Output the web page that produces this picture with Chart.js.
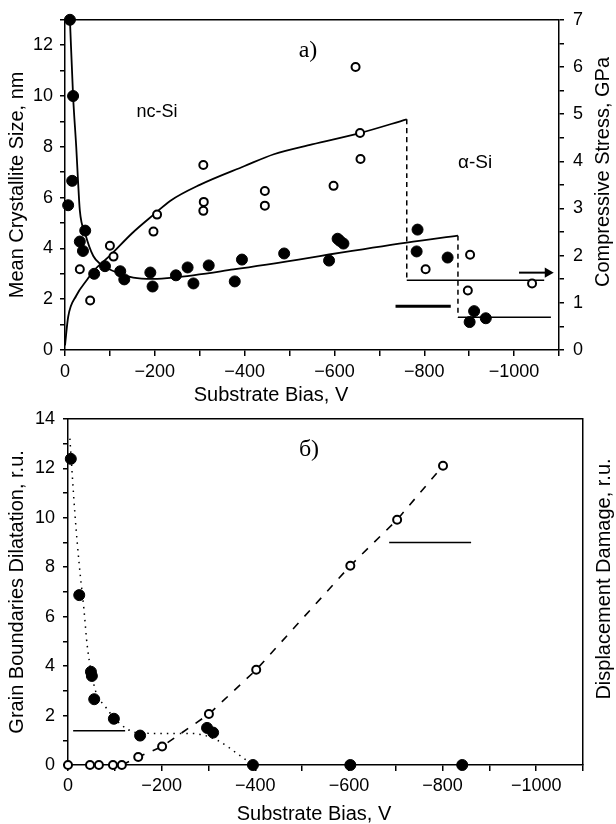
<!DOCTYPE html>
<html><head><meta charset="utf-8">
<script src="https://cdn.jsdelivr.net/npm/chart.js@4.4.1/dist/chart.umd.min.js"></script>
<style>
html,body{margin:0;padding:0;background:#fff;width:616px;height:824px;overflow:hidden;}
#c1{position:absolute;left:0;top:0;width:616px;height:412px;}
#c2{position:absolute;left:0;top:400px;width:616px;height:424px;}
</style></head><body>
<canvas id="c1" width="616" height="412"></canvas>
<canvas id="c2" width="616" height="424"></canvas>
<script>
// ---------- DATA: panel a) ----------
const sizeBias = [-11,-18,-16,-7,-45,-33,-40,-65,-89,-123,-132,-190,-195,-247,-273,-286,-320,-378,-394,-488,-588,-607,-612,-620,-785,-783,-852,-911,-901,-937];
const sizeNm   = [13.0,10.0,6.66,5.7,4.7,4.27,3.9,3.0,3.3,3.1,2.78,3.05,2.5,2.94,3.25,2.62,3.33,2.7,3.56,3.8,3.52,4.38,4.3,4.19,4.74,3.88,3.64,1.53,1.1,1.25];
const stressBias = [-33,-56,-100,-108,-197,-205,-309,-308,-308,-445,-445,-598,-647,-657,-658,-803,-902,-897,-1040];
const stressGPa  = [1.71,1.05,2.21,1.98,2.51,2.87,3.14,2.95,3.92,3.37,3.06,3.48,6.0,4.6,4.05,1.71,2.02,1.26,1.41];
const sizeFitBias = [-11,-18,-25,-29,-33,-45,-63,-78,-123,-152,-196,-241,-375,-547,-588,-761,-875];
const sizeFitNm   = [13.0,10.0,8.0,6.66,5.5,4.58,3.7,3.4,3.0,2.85,2.8,2.85,3.17,3.64,3.76,4.23,4.5];
const sizeDropBias = [-875,-875];
const sizeDropNm   = [4.5,1.29];
const sizeAlphaBias = [-875,-1082];
const sizeAlphaNm   = [1.29,1.29];
const stressFitBias = [0,-7,-25,-50,-65,-100,-150,-200,-234,-300,-400,-465,-550,-657,-761];
const stressFitGPa  = [0.1,0.7,1.15,1.5,1.69,2.0,2.48,2.89,3.16,3.5,3.9,4.15,4.36,4.6,4.89];
const stressDropBias = [-761,-761];
const stressDropGPa  = [4.89,1.48];
const stressAlphaBias = [-761,-1067];
const stressAlphaGPa  = [1.48,1.48];
const sizeMarkBias = [-736,-859];
const sizeMarkNm   = [1.72,1.72];
const stressArrowBias = [-1011,-1075];
const stressArrowGPa  = [1.64,1.64];

// ---------- DATA: panel б) ----------
const dilBias = [-6,-24,-49,-51,-56,-98,-154,-297,-310,-395,-603,-842];
const dilVal  = [12.38,6.87,3.77,3.6,2.66,1.87,1.19,1.5,1.31,0,0,0];
const dmgBias = [0,-47,-66,-96,-115,-150,-201,-301,-402,-603,-703,-801];
const dmgVal  = [0,0,0,0,0,0.32,0.75,2.06,3.85,8.06,9.92,12.1];
const dilFitBias = [-4,-15,-24,-34,-41,-58,-79,-111,-147,-212,-267,-320,-363,-395];
const dilFitVal  = [13.2,10.1,8.1,6.3,4.84,3.05,2.38,1.67,1.31,1.27,1.27,0.99,0.44,0];
const dmgFitBias = [-115,-150,-201,-301,-402,-603,-703,-801];
const dmgFitVal  = [0,0.32,0.75,2.06,3.85,8.06,9.92,12.1];
const dilMarkBias = [-11,-122];
const dilMarkVal  = [1.39,1.39];
const dmgMarkBias = [-686,-861];
const dmgMarkVal  = [9.0,9.0];

// ---------- TICKS ----------
const biasTickLabels = [0,-200,-400,-600,-800,-1000];
const sizeTickLabels = [0,2,4,6,8,10,12];
const stressTickLabels = [0,1,2,3,4,5,6,7];
const dilTickLabels = [0,2,4,6,8,10,12,14];

const SANS = "'Liberation Sans', Arial, sans-serif";
const SERIF = "'Liberation Serif', 'Times New Roman', serif";
Chart.defaults.font.family = SANS;
Chart.defaults.color = '#000';

const pts = (xs, ys) => xs.map((x, i) => ({x: x, y: ys[i]}));
const fmt = v => v === 0 ? '0' : '\u2212' + Math.abs(v);

function scatterSet(xs, ys, axis, filled, r) {
  return {data: pts(xs, ys), yAxisID: axis, showLine: false, clip: false,
    pointStyle: 'circle', pointRadius: r, pointHoverRadius: r,
    pointBackgroundColor: filled ? '#000' : '#fff', pointBorderColor: '#000',
    pointBorderWidth: filled ? 1 : 2};
}
function lineSet(xs, ys, axis, width, dash, extra) {
  return Object.assign({data: pts(xs, ys), yAxisID: axis, showLine: true, clip: false,
    pointRadius: 0, borderColor: '#000', borderWidth: width, borderDash: dash || [],
    cubicInterpolationMode: 'monotone', fill: false}, extra || {});
}
function biasAxis(h, pad) {
  return {type: 'linear', position: 'bottom', reverse: true, min: -1100, max: 0,
    afterBuildTicks: s => { const t = []; for (let v = 0; v >= -1100; v -= 100) t.push({value: v}); s.ticks = t; },
    ticks: {autoSkip: false, maxRotation: 0, minRotation: 0, padding: pad, font: {size: 18}, color: '#000',
      callback: v => biasTickLabels.includes(v) ? fmt(v) : ''},
    grid: {drawOnChartArea: false, drawTicks: true, tickLength: 6, color: '#000', lineWidth: 1.5},
    border: {display: true, color: '#000', width: 1.5},
    afterFit: s => { s.height = h; }};
}
function valueAxis(pos, max, step, labels, w, pad, title, showTicks) {
  return {type: 'linear', position: pos, min: 0, max: max,
    afterBuildTicks: s => { const t = []; for (let v = 0; v <= max + 1e-9; v += step) t.push({value: Math.round(v * 10) / 10}); s.ticks = t; },
    ticks: {display: showTicks, autoSkip: false, padding: pad, font: {size: 18}, color: '#000',
      callback: v => labels.includes(v) ? String(v) : ''},
    grid: {drawOnChartArea: false, drawTicks: showTicks, tickLength: 5, color: '#000', lineWidth: 1.5},
    border: {display: true, color: '#000', width: 1.5},
    title: title ? {display: true, text: title, font: {size: 20}, color: '#000', padding: {top: 5, bottom: 0}} : {display: false},
    afterFit: s => { s.width = w; }};
}
function textPlugin(items) {
  return {id: 'texts', afterDraw(chart) {
    const ctx = chart.ctx, a = chart.chartArea;
    ctx.save();
    ctx.strokeStyle = '#000'; ctx.lineWidth = 1.5;
    ctx.beginPath(); ctx.moveTo(a.left, a.top); ctx.lineTo(a.right, a.top); ctx.stroke();
    ctx.fillStyle = '#000'; ctx.textAlign = 'center'; ctx.textBaseline = 'middle';
    for (const t of items) {
      ctx.save(); ctx.translate(t.x, t.y); if (t.rot) ctx.rotate(t.rot);
      ctx.font = t.font; ctx.fillText(t.text, 0, 0); ctx.restore();
    }
    ctx.restore();
  }};
}

// ---------- PANEL a) ----------
new Chart(document.getElementById('c1'), {
  type: 'scatter',
  data: {datasets: [
    scatterSet(sizeBias, sizeNm, 'y', true, 5.5),
    scatterSet(stressBias, stressGPa, 'y2', false, 4),
    lineSet(sizeFitBias, sizeFitNm, 'y', 1.8),
    lineSet(sizeDropBias, sizeDropNm, 'y', 1.5, [5, 4]),
    lineSet(sizeAlphaBias, sizeAlphaNm, 'y', 1.5),
    lineSet(stressFitBias, stressFitGPa, 'y2', 1.8),
    lineSet(stressDropBias, stressDropGPa, 'y2', 1.5, [5, 4]),
    lineSet(stressAlphaBias, stressAlphaGPa, 'y2', 1.5),
    lineSet(sizeMarkBias, sizeMarkNm, 'y', 3),
    lineSet(stressArrowBias, stressArrowGPa, 'y2', 2, [], {pointRadius: [0, 4], pointStyle: 'triangle', rotation: 90, pointBackgroundColor: '#000', pointBorderColor: '#000'})
  ]},
  options: {responsive: false, animation: false, events: [],
    layout: {padding: {top: 18, left: 0, right: 0, bottom: 0}},
    plugins: {legend: {display: false}, tooltip: {enabled: false}},
    scales: {
      x: biasAxis(62, 5),
      y: valueAxis('left', 13, 1, sizeTickLabels, 65, 7, 'Mean Crystallite Size, nm', true),
      y2: valueAxis('right', 7, 0.5, stressTickLabels, 57, 9, null, true)
    }},
  plugins: [textPlugin([
    {text: 'a)', x: 308, y: 51, font: '24px ' + SERIF},
    {text: 'nc-Si', x: 157, y: 112, font: '18px ' + SANS},
    {text: '\u03b1-Si', x: 475, y: 163, font: '19px ' + SANS},
    {text: 'Substrate Bias, V', x: 271, y: 395, font: '20px ' + SANS},
    {text: 'Compressive Stress, GPa', x: 603, y: 172, rot: -Math.PI / 2, font: '20px ' + SANS}
  ])]
});

// ---------- PANEL б) ----------
new Chart(document.getElementById('c2'), {
  type: 'scatter',
  data: {datasets: [
    scatterSet(dilBias, dilVal, 'y', true, 5.5),
    scatterSet(dmgBias, dmgVal, 'y', false, 4),
    lineSet(dilFitBias, dilFitVal, 'y', 1.5, [1.5, 5]),
    lineSet(dmgFitBias, dmgFitVal, 'y', 1.6, [8, 9], {cubicInterpolationMode: 'default', tension: 0}),
    lineSet(dilMarkBias, dilMarkVal, 'y', 1.5),
    lineSet(dmgMarkBias, dmgMarkVal, 'y', 1.5)
  ]},
  options: {responsive: false, animation: false, events: [],
    layout: {padding: {top: 12, left: 0, right: 0, bottom: 0}},
    plugins: {legend: {display: false}, tooltip: {enabled: false}},
    scales: {
      x: biasAxis(59, 4),
      y: valueAxis('left', 14, 1, dilTickLabels, 68, 8, 'Grain Boundaries Dilatation, r.u.', true),
      y2: valueAxis('right', 14, 2, [], 33, 0, null, false)
    }},
  plugins: [textPlugin([
    {text: '\u0431)', x: 309, y: 50, font: '24px ' + SERIF},
    {text: 'Substrate Bias, V', x: 314, y: 414, font: '20px ' + SANS},
    {text: 'Displacement Damage, r.u.', x: 604, y: 179, rot: -Math.PI / 2, font: '20px ' + SANS}
  ])]
});
</script>
</body></html>
